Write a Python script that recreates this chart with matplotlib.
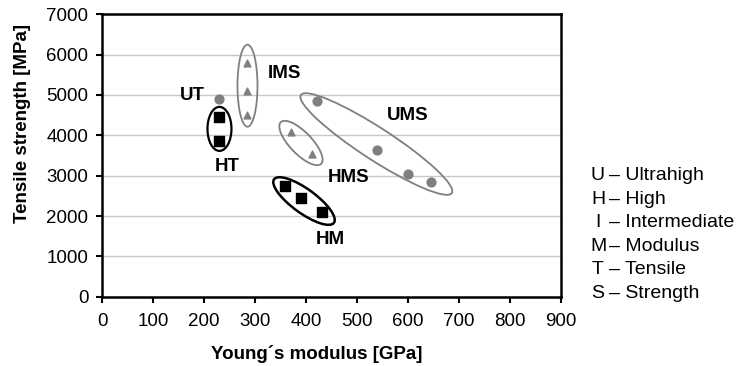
import matplotlib
matplotlib.use("Agg")
import matplotlib.pyplot as plt
from matplotlib.patches import Ellipse
from matplotlib.transforms import ScaledTranslation

plt.rcParams['font.family'] = ['Liberation Sans', 'DejaVu Sans']

# ---- data ----
ut_x = [230]; ut_y = [4900]
ht_x = [230, 230]; ht_y = [4450, 3850]
ims_x = [285, 285, 285]; ims_y = [5800, 5100, 4500]
hms_x = [370, 412]; hms_y = [4080, 3530]
ums_x = [421, 540, 601, 646]; ums_y = [4850, 3640, 3040, 2850]
hm_x = [359, 391, 431]; hm_y = [2740, 2440, 2100]

xticks = [0, 100, 200, 300, 400, 500, 600, 700, 800, 900]
yticks = [0, 1000, 2000, 3000, 4000, 5000, 6000, 7000]

legend_letters = ["U", "H", "I", "M", "T", "S"]
legend_words = ["Ultrahigh", "High", "Intermediate", "Modulus", "Tensile", "Strength"]

fig = plt.figure(figsize=(7.42, 3.66), dpi=100)
ax = fig.add_axes([0.1379, 0.1893, 0.7557 - 0.1379, 0.9609 - 0.1893])

gray = '#7f7f7f'
ax.scatter(ut_x, ut_y, s=40, marker='o', color=gray, zorder=3)
ax.scatter(ums_x, ums_y, s=40, marker='o', color=gray, zorder=3)
ax.scatter(ims_x, ims_y, s=24, marker='^', color=gray, zorder=3)
ax.scatter(hms_x, hms_y, s=24, marker='^', color=gray, zorder=3)
ax.scatter(ht_x, ht_y, s=55, marker='s', color='black', zorder=3)
ax.scatter(hm_x, hm_y, s=55, marker='s', color='black', zorder=3)

ax.set_xlim(0, 900)
ax.set_ylim(0, 7000)
ax.set_xticks(xticks)
ax.set_yticks(yticks)
ax.yaxis.grid(True, color='#c8c8c8', linewidth=1.0)
ax.set_axisbelow(True)
for s in ax.spines.values():
    s.set_linewidth(1.8)
    s.set_color('black')
ax.tick_params(axis='both', labelsize=13.5, width=1.5, length=4, direction='out')
ax.tick_params(axis='x', pad=8)
ax.tick_params(axis='y', pad=6)
ax.set_xlabel("Young´s modulus [GPa]", fontsize=13.5, fontweight='bold')
ax.set_ylabel("Tensile strength [MPa]", fontsize=13.5, fontweight='bold')
ax.xaxis.set_label_coords(0.468, -0.172)
ax.yaxis.set_label_coords(-0.155, 0.615)

# ellipses in pixel units around data centres
def ell(cx, cy, w_px, h_px, angle, color, lw):
    tr = fig.dpi_scale_trans + ScaledTranslation(cx, cy, ax.transData)
    e = Ellipse((0, 0), w_px / 100.0, h_px / 100.0, angle=angle, transform=tr,
                fill=False, edgecolor=color, linewidth=lw, zorder=2)
    ax.add_patch(e)

ell(230, 4160, 24, 44, 0, 'black', 1.6)
ell(285, 5230, 20, 82, 0, gray, 1.3)
ell(538, 3785, 180, 32, -33, gray, 1.3)
ell(390, 3810, 58, 22, -46, gray, 1.3)
ell(396, 2372, 74, 24, -36, 'black', 1.8)

lbl = dict(fontsize=13.5, fontweight='bold', ha='center', va='center')
ax.text(176, 4990, "UT", **lbl)
ax.text(245, 3240, "HT", **lbl)
ax.text(358, 5545, "IMS", **lbl)
ax.text(600, 4504, "UMS", **lbl)
ax.text(483, 2967, "HMS", **lbl)
ax.text(447, 1406, "HM", **lbl)

for i, (l, w) in enumerate(zip(legend_letters, legend_words)):
    y = 1 - (176 + i * 23.4) / 366
    fig.text(598 / 742, y, l, fontsize=14, ha='center', va='center')
    fig.text(609 / 742, y, "– " + w, fontsize=14, ha='left', va='center')

fig.savefig("out.png", dpi=100)
